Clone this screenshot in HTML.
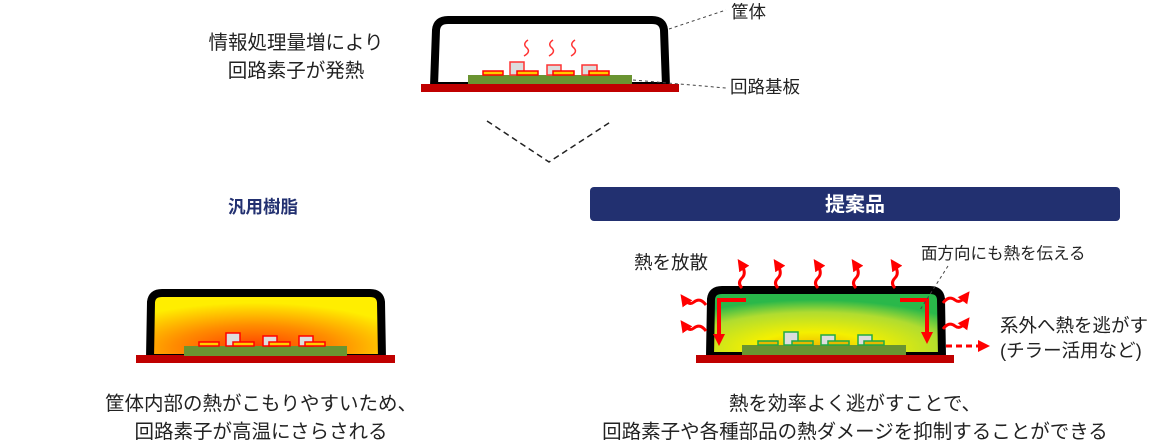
<!DOCTYPE html>
<html><head><meta charset="utf-8"><style>
body{margin:0;background:#fff;}
svg{display:block;font-family:"Liberation Sans","Noto Sans CJK JP",sans-serif;}
</style></head><body>
<svg width="1149" height="443" viewBox="0 0 1149 443" xmlns="http://www.w3.org/2000/svg">
<defs>
<marker id="ah" markerWidth="4" markerHeight="4" refX="2" refY="2" orient="auto" markerUnits="strokeWidth"><path d="M0,0 L4,2 L0,4 z" fill="#f00"/></marker>
<marker id="ah2" markerWidth="3" markerHeight="3" refX="1.5" refY="1.5" orient="auto" markerUnits="strokeWidth"><path d="M0,0 L3,1.5 L0,3 z" fill="#f00"/></marker>
<radialGradient id="hot" cx="0.45" cy="0.85" r="0.7"><stop offset="0" stop-color="#ff3a00"/><stop offset="0.5" stop-color="#ff8c00"/><stop offset="1" stop-color="#ffee00"/></radialGradient>
<radialGradient id="cool" cx="0.45" cy="0.9" r="0.75"><stop offset="0" stop-color="#f0b000"/><stop offset="0.35" stop-color="#f4f000"/><stop offset="0.75" stop-color="#b0dc30"/><stop offset="1" stop-color="#2ab84a"/></radialGradient>
<path id="wu" d="M0,0 q-5,-5 0,-10 q5,-5 -1,-14" fill="none" stroke="#f00" stroke-width="3" marker-end="url(#ah)"/>
</defs>

<!-- top device -->
<path d="M434,86 L436,30 Q437,20 448,20 L652,20 Q663,20 664,30 L666,86 Z" fill="#fff" stroke="#000" stroke-width="8"/>
<rect x="421" y="84" width="258" height="8" fill="#c00000"/>
<rect x="468" y="75" width="164" height="9" fill="#6a9431"/>
<g fill="#ddd" stroke="#f33" stroke-width="1.5">
<rect x="510" y="62" width="14" height="13"/><rect x="547" y="65" width="14" height="10"/><rect x="582" y="65" width="15" height="10"/>
</g>
<g fill="#fc0" stroke="#f00" stroke-width="1.5">
<rect x="483" y="71" width="20" height="4"/><rect x="517" y="71" width="21" height="4"/><rect x="553" y="71" width="21" height="4"/><rect x="589" y="71" width="20" height="4"/>
</g>
<g fill="none" stroke="#f33" stroke-width="1.5">
<path d="M528,40 q-6,4 -1,8 q4,4 -3,8"/><path d="M553,40 q-6,4 -1,8 q4,4 -3,8"/><path d="M575,40 q-6,4 -1,8 q4,4 -3,8"/>
</g>
<g stroke="#444" stroke-width="1" stroke-dasharray="3,3" fill="none">
<path d="M669,29 L726,10"/><path d="M633,80 L726,88"/>
</g>
<text x="731" y="18" font-size="17.5" fill="#222">筐体</text>
<text x="730" y="93" font-size="17.5" fill="#222">回路基板</text>
<text x="296" y="49" font-size="19.5" fill="#222" text-anchor="middle">情報処理量増により</text>
<text x="296" y="77" font-size="19.5" fill="#222" text-anchor="middle">回路素子が発熱</text>
<path d="M487,121 L549,162 L612,121" fill="none" stroke="#222" stroke-width="1.5" stroke-dasharray="6,4"/>

<text x="263" y="213" font-size="17.5" font-weight="bold" fill="#223070" text-anchor="middle">汎用樹脂</text>
<rect x="590" y="187" width="530" height="34" rx="4" fill="#223070"/>
<text x="855" y="211" font-size="20" font-weight="bold" fill="#fff" text-anchor="middle">提案品</text>

<!-- left device -->
<path d="M150,358 L151,302 Q152,293 162,293 L370,293 Q380,293 381,302 L382,358 Z" fill="url(#hot)" stroke="#000" stroke-width="8"/>
<rect x="136" y="355" width="259" height="8" fill="#c00000"/>
<rect x="184" y="346" width="163" height="10" fill="#6a9431"/>
<g fill="#ddd" stroke="#f00" stroke-width="1.5">
<rect x="226" y="333" width="14" height="13"/><rect x="263" y="336" width="14" height="10"/><rect x="299" y="336" width="14" height="10"/>
</g>
<g fill="#fc0" stroke="#f00" stroke-width="1.5">
<rect x="199" y="342" width="20" height="4"/><rect x="233" y="342" width="21" height="4"/><rect x="269" y="342" width="21" height="4"/><rect x="305" y="342" width="20" height="4"/>
</g>

<!-- right device -->
<path d="M710,356 L711,299 Q712,290 722,290 L930,290 Q940,290 941,299 L942,356 Z" fill="url(#cool)" stroke="#000" stroke-width="8"/>
<rect x="696" y="355" width="258" height="8" fill="#c00000"/>
<rect x="742" y="345" width="164" height="10" fill="#6a9431"/>
<g fill="#ddd" stroke="#2a4" stroke-width="1.5">
<rect x="784" y="332" width="14" height="13"/><rect x="821" y="335" width="14" height="10"/><rect x="858" y="335" width="14" height="10"/>
</g>
<g fill="#e8b800" stroke="#2a4" stroke-width="1.5">
<rect x="758" y="341" width="20" height="4"/><rect x="792" y="341" width="21" height="4"/><rect x="828" y="341" width="21" height="4"/><rect x="864" y="341" width="20" height="4"/>
</g>
<g stroke="#f00" stroke-width="4" fill="none">
<path d="M746,300 L719,300 L719,340" marker-end="url(#ah2)"/>
<path d="M900,300 L927,300 L927,338" marker-end="url(#ah2)"/>
</g>
<use href="#wu" x="742" y="288"/><use href="#wu" x="778" y="288"/><use href="#wu" x="818" y="288"/><use href="#wu" x="856" y="288"/><use href="#wu" x="895" y="288"/>
<g fill="none" stroke="#f00" stroke-width="3">
<path d="M706,305 q-6,-8 -12,-3 q-5,4 -10,-3" marker-end="url(#ah)"/>
<path d="M706,331 q-6,-8 -12,-3 q-5,4 -10,-3" marker-end="url(#ah)"/>
<path d="M943,303 q6,-8 12,-3 q5,4 11,-4" marker-end="url(#ah)"/>
<path d="M943,329 q6,-8 12,-3 q5,4 11,-4" marker-end="url(#ah)"/>
<path d="M946,346 L984,346" stroke-dasharray="6,4" marker-end="url(#ah)"/>
</g>
<path d="M948,266 L920,310" stroke="#444" stroke-width="1" stroke-dasharray="3,3"/>
<text x="634" y="269" font-size="18.5" fill="#222">熱を放散</text>
<text x="921" y="259" font-size="16.5" fill="#222">面方向にも熱を伝える</text>
<text x="1000" y="332" font-size="18.5" fill="#222">系外へ熱を逃がす</text>
<text x="1000" y="357" font-size="18.5" fill="#222">(チラー活用など)</text>

<text x="261" y="410" font-size="19.5" fill="#222" text-anchor="middle">筐体内部の熱がこもりやすいため、</text>
<text x="261" y="438" font-size="19.5" fill="#222" text-anchor="middle">回路素子が高温にさらされる</text>
<text x="855" y="410" font-size="19.5" fill="#222" text-anchor="middle">熱を効率よく逃がすことで、</text>
<text x="855" y="438" font-size="19.5" fill="#222" text-anchor="middle">回路素子や各種部品の熱ダメージを抑制することができる</text>
</svg>
</body></html>
